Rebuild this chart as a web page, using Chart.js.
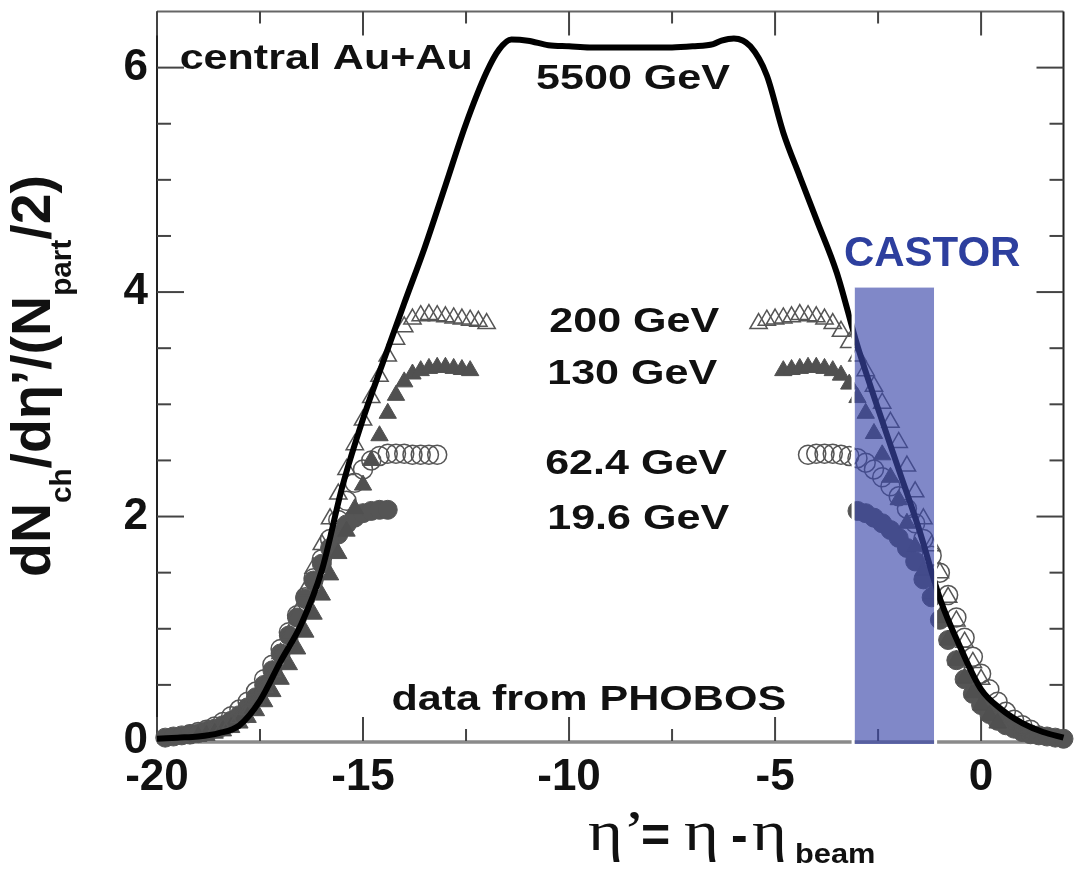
<!DOCTYPE html>
<html>
<head>
<meta charset="utf-8">
<script src="https://cdn.jsdelivr.net/npm/chart.js@4.4.1/dist/chart.umd.min.js"></script>
<style>
    body { margin: 0; background: #fff; }
    canvas { display: block; }
</style>
</head>
<body>
<canvas id="grafico" width="1075" height="871"></canvas>
<script>
// curva 5500 GeV (linea negra)
const x5500 = [-20, -19.5, -19, -18.5, -18, -17.5, -17, -16.5, -16, -15.5, -15, -14.5, -14, -13.5, -13, -12.5, -12, -11.7, -11.4, -11.0, -10.5, -10, -9.5, -9, -8.5, -8, -7.5, -7, -6.5, -6.3, -6.0, -5.6, -5.2, -4.8, -4.4, -4.0, -3.5, -3.0, -2.5, -2.0, -1.5, -1.0, -0.5, 0, 0.5, 1.0, 1.5, 2.0];
const y5500 = [0.02, 0.03, 0.04, 0.07, 0.14, 0.36, 0.71, 1.04, 1.52, 2.27, 2.87, 3.39, 3.9, 4.4, 4.95, 5.5, 5.96, 6.16, 6.25, 6.24, 6.2, 6.19, 6.18, 6.18, 6.18, 6.18, 6.18, 6.19, 6.21, 6.24, 6.26, 6.19, 5.93, 5.42, 5.03, 4.65, 4.17, 3.52, 2.96, 2.42, 1.88, 1.27, 0.83, 0.46, 0.28, 0.16, 0.08, 0.03];

// PHOBOS 200 GeV (triangulos abiertos)
const x200izq = [-18.6, -18.4, -18.2, -18.0, -17.8, -17.6, -17.4, -17.2, -17.0, -16.8, -16.6, -16.4, -16.2, -16.0, -15.8, -15.6, -15.4, -15.2, -15.0, -14.8, -14.6, -14.4, -14.2, -14.0, -13.8, -13.6, -13.4, -13.2, -13.0, -12.8, -12.6, -12.4, -12.2, -12.0];
const y200izq = [0.09, 0.12, 0.16, 0.21, 0.28, 0.37, 0.48, 0.62, 0.78, 0.95, 1.14, 1.34, 1.54, 1.75, 1.98, 2.2, 2.42, 2.64, 2.86, 3.06, 3.25, 3.43, 3.58, 3.69, 3.76, 3.79, 3.8, 3.79, 3.78, 3.77, 3.76, 3.75, 3.74, 3.72];
const x200der = [-5.4, -5.2, -5.0, -4.8, -4.6, -4.4, -4.2, -4.0, -3.8, -3.6, -3.4, -3.2, -3.0, -2.8, -2.6, -2.4, -2.2, -2.0, -1.8, -1.6, -1.4, -1.2, -1.0, -0.8, -0.6, -0.4, -0.2, 0.0];
const y200der = [3.72, 3.75, 3.76, 3.77, 3.78, 3.8, 3.79, 3.78, 3.76, 3.72, 3.65, 3.55, 3.43, 3.3, 3.16, 3.01, 2.84, 2.66, 2.45, 2.22, 1.98, 1.74, 1.5, 1.28, 1.07, 0.88, 0.7, 0.55];

// PHOBOS 130 GeV (triangulos llenos)
const x130izq = [-19.0, -18.8, -18.6, -18.4, -18.2, -18.0, -17.8, -17.6, -17.4, -17.2, -17.0, -16.8, -16.6, -16.4, -16.2, -16.0, -15.8, -15.6, -15.4, -15.2, -15.0, -14.8, -14.6, -14.4, -14.2, -14.0, -13.8, -13.6, -13.4, -13.2, -13.0, -12.8, -12.6, -12.4];
const y130izq = [0.04, 0.05, 0.07, 0.09, 0.12, 0.16, 0.21, 0.27, 0.35, 0.44, 0.55, 0.68, 0.82, 0.97, 1.13, 1.3, 1.48, 1.67, 1.87, 2.07, 2.28, 2.5, 2.72, 2.92, 3.08, 3.2, 3.27, 3.3, 3.32, 3.33, 3.33, 3.32, 3.31, 3.3];
const x130der = [-4.8, -4.6, -4.4, -4.2, -4.0, -3.8, -3.6, -3.4, -3.2, -3.0, -2.8, -2.6, -2.4, -2.2, -2.0, -1.8, -1.6, -1.4, -1.2, -1.0, -0.8, -0.6, -0.4, -0.2, 0.0, 0.2, 0.4];
const y130der = [3.3, 3.31, 3.32, 3.33, 3.33, 3.32, 3.3, 3.26, 3.18, 3.06, 2.92, 2.74, 2.55, 2.35, 2.15, 1.94, 1.73, 1.52, 1.31, 1.1, 0.9, 0.72, 0.56, 0.43, 0.32, 0.23, 0.16];

// PHOBOS 62.4 GeV (circulos abiertos)
const x62izq = [-19.2, -19.0, -18.8, -18.6, -18.4, -18.2, -18.0, -17.8, -17.6, -17.4, -17.2, -17.0, -16.8, -16.6, -16.4, -16.2, -16.0, -15.8, -15.6, -15.4, -15.2, -15.0, -14.8, -14.6, -14.4, -14.2, -14.0, -13.8, -13.6, -13.4, -13.2];
const y62izq = [0.06, 0.08, 0.1, 0.13, 0.17, 0.22, 0.28, 0.35, 0.44, 0.55, 0.68, 0.82, 0.97, 1.12, 1.28, 1.45, 1.62, 1.8, 1.97, 2.14, 2.3, 2.42, 2.5, 2.54, 2.56, 2.56, 2.56, 2.55, 2.55, 2.55, 2.55];
const x62der = [-4.2, -4.0, -3.8, -3.6, -3.4, -3.2, -3.0, -2.8, -2.6, -2.4, -2.2, -2.0, -1.8, -1.6, -1.4, -1.2, -1.0, -0.8, -0.6, -0.4, -0.2, 0.0, 0.2, 0.4, 0.6, 0.8, 1.0, 1.2];
const y62der = [2.55, 2.56, 2.56, 2.56, 2.55, 2.54, 2.52, 2.48, 2.42, 2.35, 2.27, 2.18, 2.07, 1.94, 1.8, 1.65, 1.5, 1.3, 1.1, 0.92, 0.75, 0.6, 0.46, 0.35, 0.26, 0.19, 0.14, 0.1];

// PHOBOS 19.6 GeV (circulos llenos)
const x19izq = [-19.8, -19.6, -19.4, -19.2, -19.0, -18.8, -18.6, -18.4, -18.2, -18.0, -17.8, -17.6, -17.4, -17.2, -17.0, -16.8, -16.6, -16.4, -16.2, -16.0, -15.8, -15.6, -15.4, -15.2, -15.0, -14.8, -14.6, -14.4];
const y19izq = [0.03, 0.04, 0.05, 0.06, 0.07, 0.09, 0.11, 0.14, 0.18, 0.23, 0.3, 0.39, 0.5, 0.63, 0.78, 0.94, 1.1, 1.27, 1.43, 1.58, 1.72, 1.84, 1.93, 1.99, 2.03, 2.05, 2.06, 2.06];
const x19der = [-3.0, -2.8, -2.6, -2.4, -2.2, -2.0, -1.8, -1.6, -1.4, -1.2, -1.0, -0.8, -0.6, -0.4, -0.2, 0.0, 0.2, 0.4, 0.6, 0.8, 1.0, 1.2, 1.4, 1.6, 1.8, 2.0];
const y19der = [2.05, 2.03, 1.99, 1.94, 1.88, 1.81, 1.72, 1.6, 1.44, 1.28, 1.08, 0.9, 0.72, 0.55, 0.42, 0.32, 0.24, 0.18, 0.14, 0.11, 0.08, 0.06, 0.05, 0.04, 0.03, 0.02];

// ejes
const xMarcas = [-20, -15, -10, -5, 0];
const xMarcasMenores = [-17.5, -12.5, -7.5, -2.5];
const yMarcas = [0, 2, 4, 6];
const yMarcasMenores = [0.5, 1, 1.5, 2.5, 3, 3.5, 4.5, 5, 5.5];

// zona CASTOR
const castorX = [-3.07, -1.14];
const castorY = [0, 4.04];

// textos dentro del grafico
const etiquetas = [
    { texto: 'central Au+Au', x: -19.45, y: 5.99 },
    { texto: '5500 GeV', x: -10.8, y: 5.81 },
    { texto: '200 GeV', x: -10.48, y: 3.64 },
    { texto: '130 GeV', x: -10.53, y: 3.18 },
    { texto: '62.4 GeV', x: -10.58, y: 2.38 },
    { texto: '19.6 GeV', x: -10.53, y: 1.89 },
    { texto: 'data from PHOBOS', x: -14.31, y: 0.28 }
];

const fuente = '"Liberation Sans", Arial, sans-serif';
const serif = '"Liberation Serif", "Times New Roman", serif';

const puntos = (xs, ys) => xs.map((x, i) => ({ x: x, y: ys[i] }));

function textoEstirado(ctx, texto, x, y, font, sx, color) {
    ctx.save();
    ctx.font = font;
    ctx.fillStyle = color;
    ctx.textAlign = 'left';
    ctx.textBaseline = 'alphabetic';
    ctx.translate(x, y);
    ctx.scale(sx, 1);
    ctx.fillText(texto, 0, 0);
    ctx.restore();
}

// marco y marcas hacia adentro
const marco = {
    id: 'marco',
    beforeDatasetsDraw(chart) {
        const { ctx, chartArea: a, scales: { x, y } } = chart;
        ctx.save();
        ctx.lineCap = 'butt';

        ctx.strokeStyle = '#666';
        ctx.lineWidth = 2;
        ctx.beginPath(); ctx.moveTo(a.left, a.top); ctx.lineTo(a.right, a.top); ctx.stroke();
        ctx.strokeStyle = '#222';
        ctx.beginPath(); ctx.moveTo(a.left, a.top); ctx.lineTo(a.left, a.bottom); ctx.stroke();
        ctx.beginPath(); ctx.moveTo(a.right, a.top); ctx.lineTo(a.right, a.bottom); ctx.stroke();
        ctx.strokeStyle = '#8a8a8a';
        ctx.lineWidth = 3.5;
        ctx.beginPath(); ctx.moveTo(a.left, a.bottom + 1); ctx.lineTo(a.right, a.bottom + 1); ctx.stroke();

        ctx.strokeStyle = '#444';
        ctx.lineWidth = 2;
        const marcaX = (v, largo) => {
            const px = x.getPixelForValue(v);
            ctx.beginPath(); ctx.moveTo(px, a.bottom); ctx.lineTo(px, a.bottom - largo); ctx.stroke();
            ctx.beginPath(); ctx.moveTo(px, a.top); ctx.lineTo(px, a.top + largo); ctx.stroke();
        };
        const marcaY = (v, largo) => {
            const py = y.getPixelForValue(v);
            ctx.beginPath(); ctx.moveTo(a.left, py); ctx.lineTo(a.left + largo, py); ctx.stroke();
            ctx.beginPath(); ctx.moveTo(a.right, py); ctx.lineTo(a.right - largo, py); ctx.stroke();
        };
        xMarcas.forEach(v => marcaX(v, 24));
        xMarcasMenores.forEach(v => marcaX(v, 12));
        yMarcas.forEach(v => marcaY(v, 27));
        yMarcasMenores.forEach(v => marcaY(v, 14));
        ctx.restore();
    }
};

// rectangulo CASTOR encima de los datos
const castor = {
    id: 'castor',
    afterDatasetsDraw(chart) {
        const { ctx, scales: { x, y } } = chart;
        const x0 = x.getPixelForValue(castorX[0]);
        const x1 = x.getPixelForValue(castorX[1]);
        const y0 = y.getPixelForValue(castorY[0]) + 3;
        const y1 = y.getPixelForValue(castorY[1]);
        ctx.save();
        ctx.fillStyle = 'rgba(60, 72, 170, 0.65)';
        ctx.fillRect(x0, y1, x1 - x0, y0 - y1);
        ctx.strokeStyle = '#fff';
        ctx.lineWidth = 3;
        ctx.beginPath(); ctx.moveTo(x0 - 1.5, y1); ctx.lineTo(x0 - 1.5, y0); ctx.stroke();
        ctx.beginPath(); ctx.moveTo(x1 + 1.5, y1); ctx.lineTo(x1 + 1.5, y0); ctx.stroke();
        ctx.restore();
    }
};

// textos y titulos de ejes
const textos = {
    id: 'textos',
    afterDraw(chart) {
        const { ctx, scales: { x, y } } = chart;

        etiquetas.forEach(e => {
            textoEstirado(ctx, e.texto, x.getPixelForValue(e.x), y.getPixelForValue(e.y),
                'bold 35px ' + fuente, 1.23, '#111');
        });
        textoEstirado(ctx, 'CASTOR', x.getPixelForValue(-3.33), y.getPixelForValue(4.23),
            'bold 42px ' + fuente, 1.0, '#2d3f9e');

        // titulo eje Y (rotado)
        const principal = 'bold 56px ' + fuente;
        const sub = 'bold 30px ' + fuente;
        const piezas = [
            { t: 'dN', f: principal, dy: 0 },
            { t: 'ch', f: sub, dy: 21 },
            { t: '/dη’/(N', f: principal, dy: 0 },
            { t: 'part', f: sub, dy: 21 },
            { t: '/2)', f: principal, dy: 0 }
        ];
        ctx.save();
        ctx.fillStyle = '#111';
        ctx.textBaseline = 'alphabetic';
        let total = 0;
        piezas.forEach(p => { ctx.font = p.f; p.w = ctx.measureText(p.t).width; total += p.w; });
        ctx.translate(50, 577);
        ctx.rotate(-Math.PI / 2);
        ctx.scale(402 / total, 1);
        let pos = 0;
        piezas.forEach(p => { ctx.font = p.f; ctx.fillText(p.t, pos, p.dy); pos += p.w; });
        ctx.restore();

        // titulo eje X
        textoEstirado(ctx, 'η’', 588, 850, '58px ' + serif, 1.15, '#111');
        textoEstirado(ctx, '=', 641, 852, 'bold 50px ' + fuente, 1.0, '#111');
        textoEstirado(ctx, 'η', 684, 850, '58px ' + serif, 1.15, '#111');
        textoEstirado(ctx, '-', 731, 852, 'bold 50px ' + fuente, 1.0, '#111');
        textoEstirado(ctx, 'η', 752, 850, '58px ' + serif, 1.15, '#111');
        textoEstirado(ctx, 'beam', 795, 863, 'bold 28px ' + fuente, 1.1, '#111');
    }
};

const ctx = document.getElementById('grafico').getContext('2d');
const grafico = new Chart(ctx, {
    type: 'scatter',
    data: {
        datasets: [
            {
                label: '5500 GeV',
                type: 'line',
                data: puntos(x5500, y5500),
                borderColor: '#000',
                borderWidth: 6,
                pointRadius: 0,
                cubicInterpolationMode: 'monotone',
                fill: false,
                clip: false,
                order: 0
            },
            {
                label: '200 GeV',
                data: puntos(x200izq, y200izq).concat(puntos(x200der, y200der)),
                pointStyle: 'triangle',
                pointRadius: 10,
                backgroundColor: 'rgba(255,255,255,0)',
                borderColor: '#555',
                borderWidth: 1.5,
                clip: false,
                order: 1
            },
            {
                label: '130 GeV',
                data: puntos(x130izq, y130izq).concat(puntos(x130der, y130der)),
                pointStyle: 'triangle',
                pointRadius: 10,
                backgroundColor: '#505050',
                borderColor: '#505050',
                borderWidth: 1,
                clip: false,
                order: 2
            },
            {
                label: '62.4 GeV',
                data: puntos(x62izq, y62izq).concat(puntos(x62der, y62der)),
                pointStyle: 'circle',
                pointRadius: 9.5,
                backgroundColor: 'rgba(255,255,255,0)',
                borderColor: '#555',
                borderWidth: 1.5,
                clip: false,
                order: 3
            },
            {
                label: '19.6 GeV',
                data: puntos(x19izq, y19izq).concat(puntos(x19der, y19der)),
                pointStyle: 'circle',
                pointRadius: 9.5,
                backgroundColor: '#555',
                borderColor: '#555',
                borderWidth: 1,
                clip: false,
                order: 4
            }
        ]
    },
    options: {
        responsive: false,
        devicePixelRatio: 1,
        animation: false,
        events: [],
        layout: { padding: { top: 5, right: 10, left: 0, bottom: 0 } },
        plugins: {
            legend: { display: false },
            tooltip: { enabled: false }
        },
        scales: {
            x: {
                type: 'linear',
                min: -20,
                max: 2,
                grid: { display: false, drawTicks: false },
                border: { display: false },
                afterBuildTicks: (eje) => { eje.ticks = xMarcas.map(v => ({ value: v })); },
                afterFit: (eje) => { eje.height = 130; eje.paddingLeft = 0; eje.paddingRight = 0; },
                ticks: {
                    padding: 10,
                    color: '#111',
                    font: { family: fuente, size: 44, weight: 'bold' }
                }
            },
            y: {
                type: 'linear',
                min: 0,
                max: 6.5,
                grid: { display: false, drawTicks: false },
                border: { display: false },
                afterBuildTicks: (eje) => { eje.ticks = yMarcas.map(v => ({ value: v })); },
                afterFit: (eje) => { eje.width = 157; eje.paddingTop = 0; eje.paddingBottom = 0; },
                ticks: {
                    padding: 9,
                    color: '#111',
                    font: { family: fuente, size: 44, weight: 'bold' }
                }
            }
        }
    },
    plugins: [marco, castor, textos]
});
</script>
</body>
</html>
